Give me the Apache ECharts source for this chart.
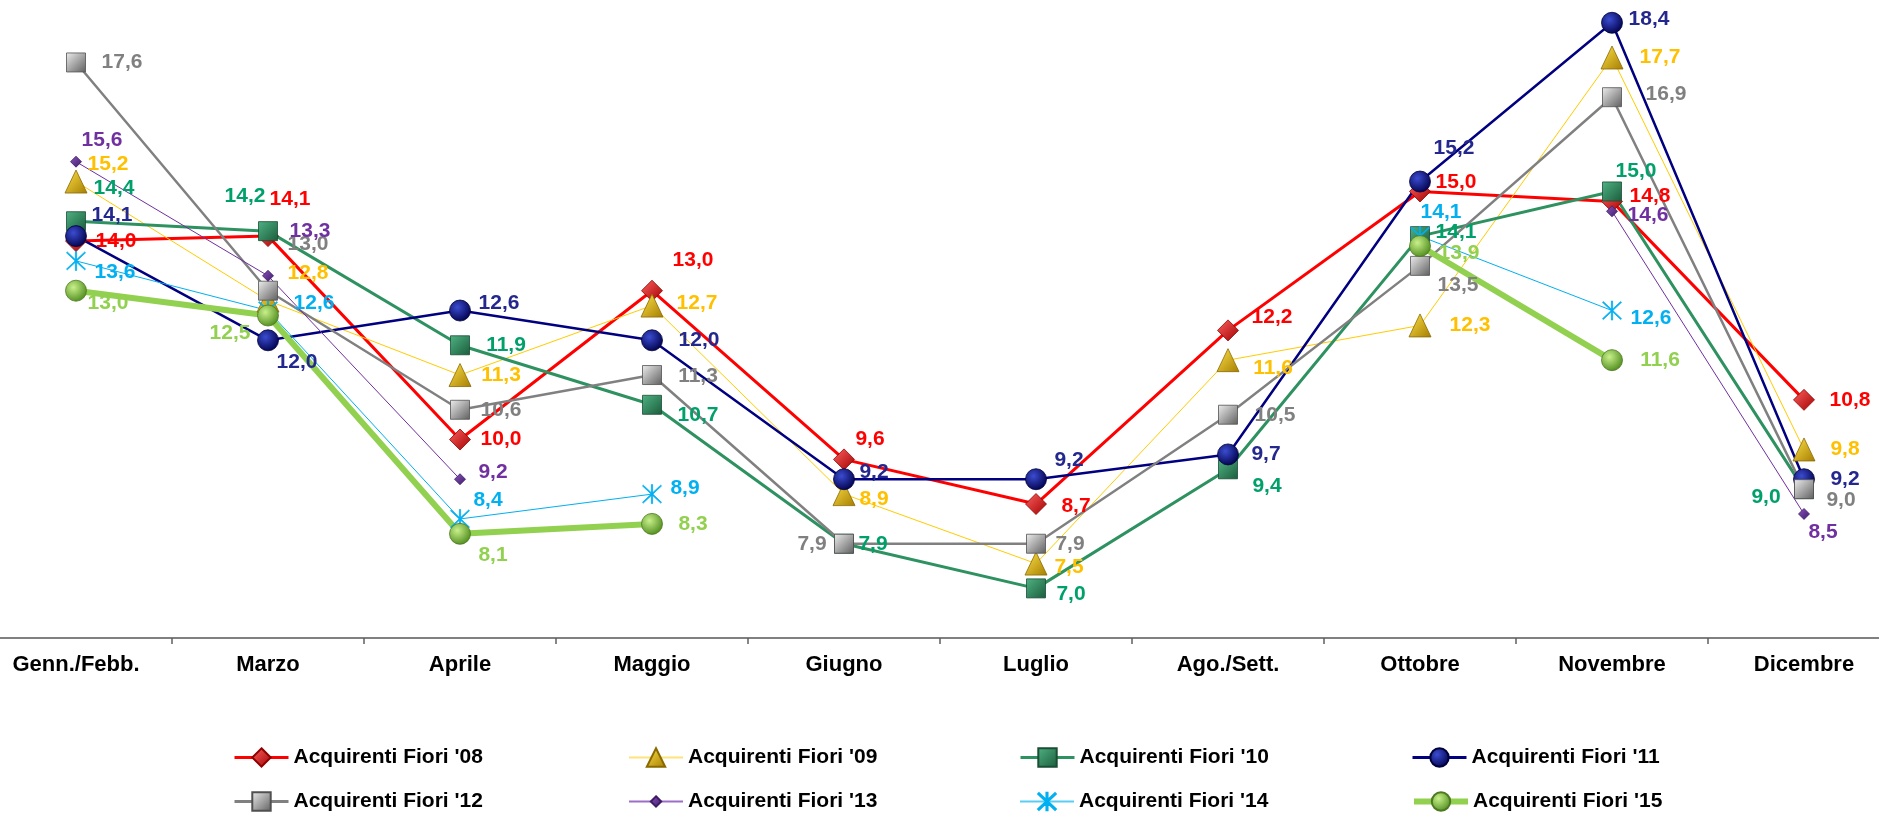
<!DOCTYPE html>
<html>
<head>
<meta charset="utf-8">
<script src="https://cdn.jsdelivr.net/npm/echarts@6/dist/echarts.min.js"></script>
<style>
html,body{margin:0;padding:0;background:#fff;}
#chart{width:1879px;height:814px;}
</style>
</head>
<body>
<div id="chart"></div>
<script>
// ---- data ----
const categories = ['Genn./Febb.', 'Marzo', 'Aprile', 'Maggio', 'Giugno', 'Luglio', 'Ago./Sett.', 'Ottobre', 'Novembre', 'Dicembre'];
const seriesNames = ["Acquirenti Fiori '08", "Acquirenti Fiori '09", "Acquirenti Fiori '10", "Acquirenti Fiori '11",
                     "Acquirenti Fiori '12", "Acquirenti Fiori '13", "Acquirenti Fiori '14", "Acquirenti Fiori '15"];
const fiori08 = [14.0, 14.1, 10.0, 13.0, 9.6, 8.7, 12.2, 15.0, 14.8, 10.8];
const fiori09 = [15.2, 12.8, 11.3, 12.7, 8.9, 7.5, 11.6, 12.3, 17.7, 9.8];
const fiori10 = [14.4, 14.2, 11.9, 10.7, 7.9, 7.0, 9.4, 14.1, 15.0, 9.0];
const fiori11 = [14.1, 12.0, 12.6, 12.0, 9.2, 9.2, 9.7, 15.2, 18.4, 9.2];
const fiori12 = [17.6, 13.0, 10.6, 11.3, 7.9, 7.9, 10.5, 13.5, 16.9, 9.0];
const fiori13 = [15.6, 13.3, 9.2, null, null, null, null, null, 14.6, 8.5];
const fiori14 = [13.6, 12.6, 8.4, 8.9, null, null, null, 14.1, 12.6, null];
const fiori15 = [13.0, 12.5, 8.1, 8.3, null, null, null, 13.9, 11.6, null];

// ---- label placement (style only): [dx, dy] of label centre from the point ----
const labelOffsets = [
  [[40,0],[22,-37],[41,0],[41,-30],[26,-20],[40,2],[44,-13],[36,-9],[38,-5],[46,0]],
  [[32,-17],[40,-27],[41,0],[45,-2],[30,5],[33,4],[45,8],[50,0],[48,0],[41,0]],
  [[38,-33],[-23,-35],[46,0],[46,10],[29,0],[35,6],[39,17],[36,-4],[24,-20],[-38,8]],
  [[36,-21],[29,22],[39,-7],[47,0],[30,-7],[33,-19],[38,0],[34,-33],[37,-4],[41,0]],
  [[46,0],[40,-46],[41,0],[46,1],[-32,0],[34,0],[47,0],[38,19],[54,-3],[37,11]],
  [[26,-21],[42,-45],[33,-7],null,null,null,null,null,[36,4],[19,18]],
  [[39,11],[46,-7],[28,-19],[33,-6],null,null,null,[21,-24],[39,8],null],
  [[32,13],[-38,18],[33,21],[41,0],null,null,null,[39,7],[48,0],null]
];

const FONT = 'Liberation Sans, Arial, sans-serif';
const lin = (a, b) => new echarts.graphic.LinearGradient(0, 0, 1, 1, [{offset: 0, color: a}, {offset: 1, color: b}]);
const rad = (a, b) => new echarts.graphic.RadialGradient(0.38, 0.35, 0.7, [{offset: 0, color: a}, {offset: 1, color: b}]);
const asterisk = 'path://M9.4,0 L10.6,0 L10.6,20 L9.4,20 Z M0.6,1.4 L1.4,0.6 L19.4,18.6 L18.6,19.4 Z M18.6,0.6 L19.4,1.4 L1.4,19.4 L0.6,18.6 Z';

const styles = [
  {line: '#FF0000', width: 3,   label: '#FF0000', symbol: 'diamond',  size: 21, fill: lin('#ff6060', '#a00000'), border: '#900000', legLine: '#FF0000', legW: 3, legH: 23},
  {line: '#FFCC00', width: 1,   label: '#FFC000', symbol: 'triangle', size: [22, 23], fill: lin('#ffe24a', '#a57d00'), border: '#8a6a00', legLine: '#FFE27A', legW: 2, legH: 23},
  {line: '#2E9160', width: 3,   label: '#00A06A', symbol: 'rect',     size: 19, fill: lin('#4fb383', '#1b5c3c'), border: '#1a4d33', legLine: '#2E9160', legW: 3, legH: 23},
  {line: '#000080', width: 2.5, label: '#24288E', symbol: 'circle',   size: 21, fill: rad('#3b4cd0', '#00004a'), border: '#00003a', legLine: '#000080', legW: 3, legH: 23},
  {line: '#808080', width: 2.5, label: '#808080', symbol: 'rect',     size: 19, fill: lin('#eeeeee', '#5e5e5e'), border: '#505050', legLine: '#808080', legW: 3, legH: 23},
  {line: '#7030A0', width: 1,   label: '#7030A0', symbol: 'diamond',  size: 11, fill: lin('#8a55c0', '#3f1a66'), border: '#3f1a66', legLine: '#9B6FC8', legW: 2, legH: 13},
  {line: '#00B0F0', width: 1,   label: '#00B0F0', symbol: asterisk,   size: 19, fill: '#00B0F0', border: '#00B0F0', legLine: '#5BCDF5', legW: 2, legH: 22},
  {line: '#92D050', width: 6,   label: '#92D050', symbol: 'circle',   size: 21, fill: rad('#c8f08a', '#4d8a1c'), border: '#4d7a20', legLine: '#92D050', legW: 6, legH: 23}
];

const values = [fiori08, fiori09, fiori10, fiori11, fiori12, fiori13, fiori14, fiori15];
const fmt = p => (p.value == null ? '' : Number(p.value).toFixed(1).replace('.', ','));

const series = values.map((vals, si) => {
  const st = styles[si];
  return {
    name: seriesNames[si],
    type: 'line',
    data: vals.map((v, i) => (v == null ? null : {
      value: v,
      label: {offset: labelOffsets[si][i] || [30, 0]}
    })),
    connectNulls: false,
    symbol: st.symbol,
    symbolSize: st.size,
    showAllSymbol: true,
    clip: false,
    lineStyle: {color: st.line, width: st.width},
    itemStyle: {color: st.fill, borderColor: st.border, borderWidth: 0.8},
    label: {
      show: true, position: 'inside', align: 'center', verticalAlign: 'middle',
      formatter: fmt, color: st.label, fontFamily: FONT, fontWeight: 'bold', fontSize: 21
    },
    emphasis: {disabled: true},
    animation: false
  };
});

// legend: 4 columns x 2 rows
const legendCols = [233, 628, 1019, 1411];
const legendRows = [759, 803];
const legends = seriesNames.map((n, i) => {
  const st = styles[i];
  return {
    data: [n],
    left: legendCols[i % 4],
    top: legendRows[Math.floor(i / 4)] - Math.max(st.legH, 24) / 2,
    padding: 0,
    itemWidth: 54,
    itemHeight: st.legH,
    itemGap: 0,
    selectedMode: false,
    lineStyle: {color: st.legLine, width: st.legW},
    textStyle: {fontFamily: FONT, fontWeight: 'bold', fontSize: 21, color: '#000'}
  };
});

const chart = echarts.init(document.getElementById('chart'), null, {renderer: 'canvas'});
chart.setOption({
  animation: false,
  backgroundColor: '#fff',
  grid: {left: -20, right: -21, top: -7, bottom: 176, containLabel: false, outerBoundsMode: 'none'},
  legend: legends,
  xAxis: {
    type: 'category',
    data: categories,
    boundaryGap: true,
    axisLine: {show: true, lineStyle: {color: '#808080', width: 2}},
    axisTick: {show: true, interval: 0, length: 6, lineStyle: {color: '#606060', width: 1.5}},
    axisLabel: {interval: 0, margin: 16, color: '#000', fontFamily: FONT, fontWeight: 'bold', fontSize: 22},
    splitLine: {show: false}
  },
  yAxis: {
    type: 'value', min: 6, max: 19, show: false, splitLine: {show: false}
  },
  series: series
});
</script>
</body>
</html>
